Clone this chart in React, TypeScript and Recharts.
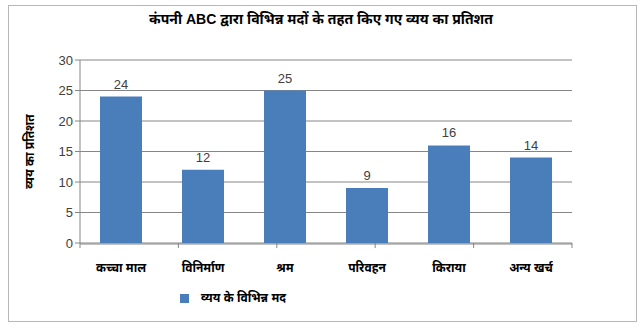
import React from "react";
import { BarChart, Bar, XAxis, YAxis, CartesianGrid, Legend, LabelList } from "recharts";

const categories: string[] = ["कच्चा माल", "विनिर्माण", "श्रम", "परिवहन", "किराया", "अन्य खर्च"];
const expenseValues: number[] = [24, 12, 25, 9, 16, 14];
const yTicks: number[] = [0, 5, 10, 15, 20, 25, 30];
const boundaryTicks: number[] = [0, 1, 2, 3, 4, 5, 6];

const seriesName = "व्यय के विभिन्न मद";
const chartTitle = "कंपनी ABC द्वारा विभिन्न मदों के तहत किए गए व्यय का प्रतिशत";
const yLabel = "व्यय का प्रतिशत";

const data = categories.map((name, i) => ({ name, value: expenseValues[i] }));

const font = "Arial, 'Liberation Sans', 'Noto Sans', sans-serif";

export default function App(): JSX.Element {
  return (
    <div
      style={{
        position: "absolute",
        left: 0,
        top: 0,
        width: 642,
        height: 329,
        background: "#fff",
        fontFamily: font,
      }}
    >
      <div
        style={{
          position: "absolute",
          left: 8,
          top: 5,
          width: 627,
          height: 315,
          border: "1px solid #b8b8b8",
        }}
      />
      <div
        style={{
          position: "absolute",
          left: 0,
          top: 9,
          width: 642,
          textAlign: "center",
          fontSize: 14,
          fontWeight: "bold",
          color: "#000",
        }}
      >
        {chartTitle}
      </div>
      <BarChart
        width={642}
        height={329}
        data={data}
        margin={{ top: 60, right: 70, left: 0, bottom: 55 }}
      >
        <CartesianGrid vertical={false} stroke="#868686" />
        {/* boundary tick marks between categories */}
        <XAxis
          xAxisId="bounds"
          type="number"
          domain={[0, 6]}
          ticks={boundaryTicks}
          interval={0}
          height={1}
          axisLine={false}
          tickLine={{ stroke: "#868686" }}
          tickSize={5}
          tickFormatter={() => ""}
        />
        <XAxis
          xAxisId="cat"
          dataKey="name"
          height={30}
          axisLine={{ stroke: "#868686" }}
          tickLine={false}
          tick={{ fill: "#000", fontSize: 12, fontWeight: "bold", fontFamily: font }}
          tickMargin={13}
        />
        <YAxis
          width={80}
          domain={[0, 30]}
          ticks={yTicks}
          axisLine={{ stroke: "#868686" }}
          tickLine={{ stroke: "#868686" }}
          tickSize={5}
          tick={{ fill: "#404040", fontSize: 13, fontFamily: font }}
          label={{
            value: yLabel,
            angle: -90,
            position: "insideLeft",
            offset: 30,
            style: { textAnchor: "middle", fill: "#000", fontSize: 12, fontWeight: "bold", fontFamily: font },
          }}
        />
        <Legend
          layout="horizontal"
          verticalAlign="middle"
          align="center"
          iconType="square"
          iconSize={9}
          wrapperStyle={{ top: 289, left: 180, width: "auto", fontSize: 12, fontWeight: "bold" }}
          formatter={(v: string) => <span style={{ color: "#000", marginLeft: 8 }}>{v}</span>}
        />
        <Bar xAxisId="cat" dataKey="value" name={seriesName} fill="#4a7ebb" barSize={42} isAnimationActive={false}>
          <LabelList dataKey="value" position="top" offset={8} fill="#404040" fontSize={13} />
        </Bar>
      </BarChart>
    </div>
  );
}
